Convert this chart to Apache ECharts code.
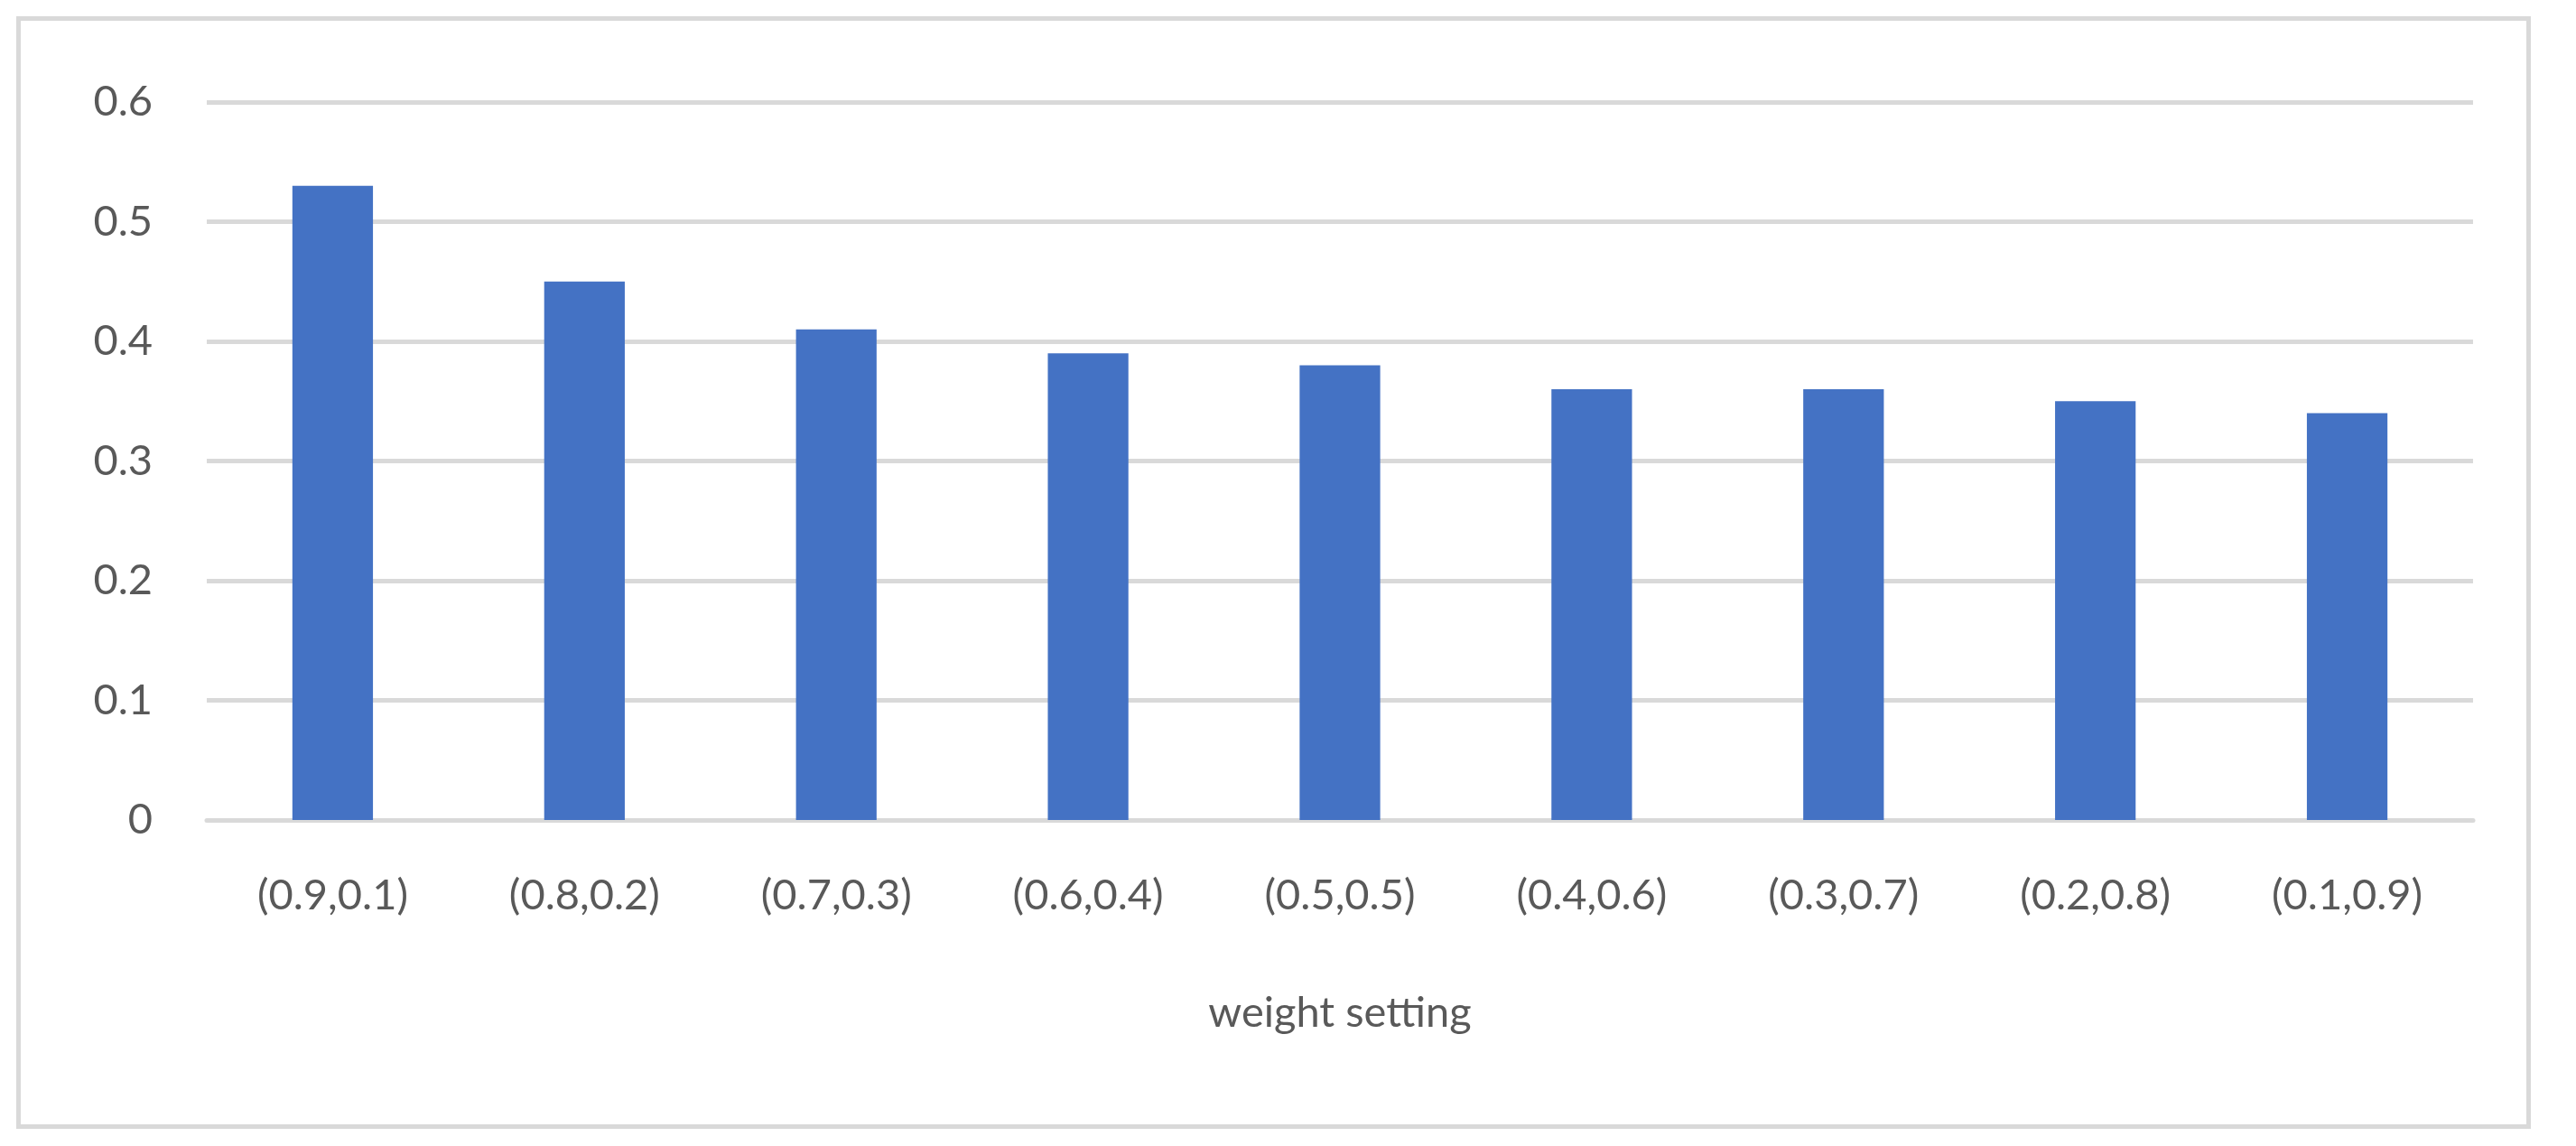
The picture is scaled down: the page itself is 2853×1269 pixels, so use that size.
<!DOCTYPE html>
<html>
<head>
<meta charset="utf-8">
<script src="https://cdn.jsdelivr.net/npm/echarts@6/dist/echarts.min.js"></script>
<style>
html, body { margin: 0; padding: 0; background: #fff; }
#frame { position: absolute; left: 18px; top: 18px; width: 2775px; height: 1222px; border: 5px solid #d9d9d9; }
#chart { position: absolute; left: 0; top: 0; width: 2853px; height: 1269px; }
</style>
</head>
<body>
<div id="frame"></div>
<div id="chart"></div>
<script>
var categories = ['(0.9,0.1)', '(0.8,0.2)', '(0.7,0.3)', '(0.6,0.4)', '(0.5,0.5)', '(0.4,0.6)', '(0.3,0.7)', '(0.2,0.8)', '(0.1,0.9)'];
var values = [0.53, 0.45, 0.41, 0.39, 0.38, 0.36, 0.36, 0.35, 0.34];

var myChart = echarts.init(document.getElementById('chart'));
var option = {
	animation : false,
	textStyle : { fontFamily : 'Lato' },
	grid : { left : 229, right : 114, top : 113, bottom : 361 },
	xAxis : {
		type : 'category',
		data : categories,
		name : 'weight setting',
		nameLocation : 'middle',
		nameGap : 190,
		nameTextStyle : { color : '#595959', fontSize : 47 },
		axisLine : { lineStyle : { color : '#d9d9d9', width : 5 } },
		axisTick : { show : false },
		axisLabel : { color : '#595959', fontSize : 47, margin : 60, interval : 0 }
	},
	yAxis : {
		type : 'value',
		min : 0,
		max : 0.6,
		interval : 0.1,
		axisLine : { show : false },
		axisTick : { show : false },
		splitLine : { lineStyle : { color : '#d9d9d9', width : 5 } },
		axisLabel : { color : '#595959', fontSize : 47, margin : 60,
			formatter : function(v) { return String(+v.toFixed(1)); } }
	},
	series : [ {
		type : 'bar',
		data : values,
		barWidth : '32%',
		itemStyle : { color : '#4472c4' }
	} ]
};
myChart.setOption(option);
</script>
</body>
</html>
